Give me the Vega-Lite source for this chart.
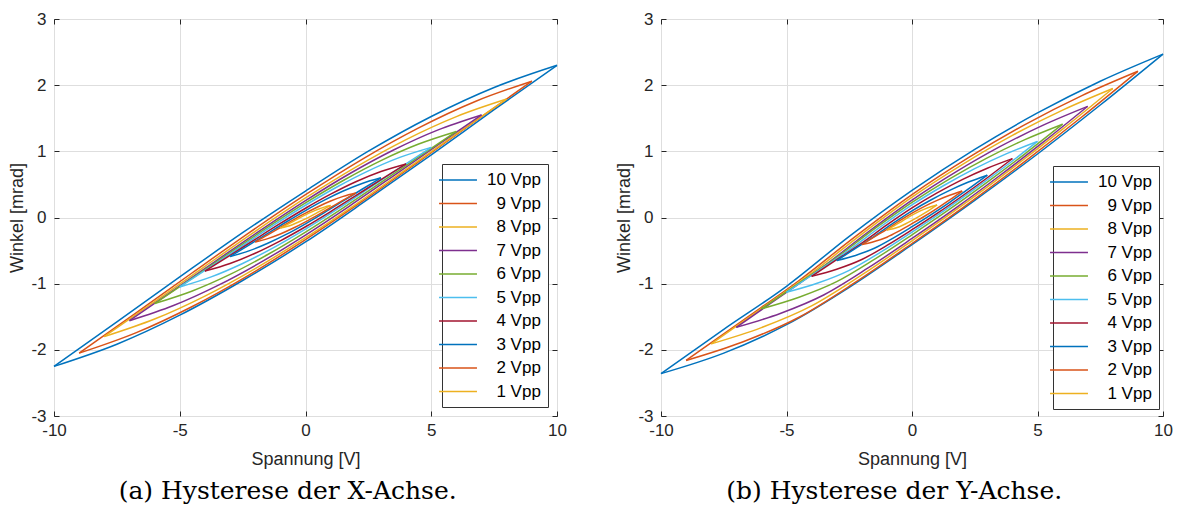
{
"$schema": "https://vega.github.io/schema/vega-lite/v6.json",
"background": "white",
"padding": {"left": 8, "top": 9, "right": 5, "bottom": 5},
"spacing": 48,
"config": {
  "view": {"stroke": "#262626", "strokeWidth": 1},
  "axis": {"labelFont": "Liberation Sans", "titleFont": "Liberation Sans", "labelFontSize": 17, "titleFontSize": 18, "titleFontWeight": "normal", "labelColor": "#262626", "titleColor": "#262626", "gridColor": "#dedede", "gridWidth": 1, "domain": false, "tickColor": "#262626", "tickSize": -5, "tickWidth": 1},
  "legend": {"title": null, "orient": "none", "labelFont": "Liberation Sans", "labelFontSize": 17, "labelColor": "#000000", "fillColor": "white", "strokeColor": "#333333", "padding": 7, "rowPadding": 6.5, "labelLimit": 200},
  "title": {"font": "DejaVu Serif", "fontSize": 25, "fontWeight": "normal", "color": "#000000", "orient": "bottom", "anchor": "middle", "frame": "bounds", "offset": 11}
},
"datasets": {
"dx": [
{"s":"10 Vpp","b":"L","x":-10,"y":-2.25},{"s":"10 Vpp","b":"L","x":-7.5,"y":-1.915},{"s":"10 Vpp","b":"L","x":-5,"y":-1.476},{"s":"10 Vpp","b":"L","x":-2.5,"y":-0.952},{"s":"10 Vpp","b":"L","x":0,"y":-0.37},{"s":"10 Vpp","b":"L","x":2.5,"y":0.28},{"s":"10 Vpp","b":"L","x":5,"y":0.948},{"s":"10 Vpp","b":"L","x":7.5,"y":1.629},{"s":"10 Vpp","b":"L","x":10,"y":2.3},
{"s":"10 Vpp","b":"U","x":-10,"y":-2.25},{"s":"10 Vpp","b":"U","x":-7.5,"y":-1.579},{"s":"10 Vpp","b":"U","x":-5,"y":-0.899},{"s":"10 Vpp","b":"U","x":-2.5,"y":-0.23},{"s":"10 Vpp","b":"U","x":0,"y":0.4},{"s":"10 Vpp","b":"U","x":2.5,"y":1.002},{"s":"10 Vpp","b":"U","x":5,"y":1.527},{"s":"10 Vpp","b":"U","x":7.5,"y":1.965},{"s":"10 Vpp","b":"U","x":10,"y":2.3},
{"s":"9 Vpp","b":"L","x":-9,"y":-2.05},{"s":"9 Vpp","b":"L","x":-6.75,"y":-1.744},{"s":"9 Vpp","b":"L","x":-4.5,"y":-1.345},{"s":"9 Vpp","b":"L","x":-2.25,"y":-0.87},{"s":"9 Vpp","b":"L","x":0,"y":-0.335},{"s":"9 Vpp","b":"L","x":2.25,"y":0.242},{"s":"9 Vpp","b":"L","x":4.5,"y":0.845},{"s":"9 Vpp","b":"L","x":6.75,"y":1.456},{"s":"9 Vpp","b":"L","x":9,"y":2.06},
{"s":"9 Vpp","b":"U","x":-9,"y":-2.05},{"s":"9 Vpp","b":"U","x":-6.75,"y":-1.446},{"s":"9 Vpp","b":"U","x":-4.5,"y":-0.835},{"s":"9 Vpp","b":"U","x":-2.25,"y":-0.232},{"s":"9 Vpp","b":"U","x":0,"y":0.345},{"s":"9 Vpp","b":"U","x":2.25,"y":0.88},{"s":"9 Vpp","b":"U","x":4.5,"y":1.355},{"s":"9 Vpp","b":"U","x":6.75,"y":1.754},{"s":"9 Vpp","b":"U","x":9,"y":2.06},
{"s":"8 Vpp","b":"L","x":-8,"y":-1.8},{"s":"8 Vpp","b":"L","x":-6,"y":-1.535},{"s":"8 Vpp","b":"L","x":-4,"y":-1.188},{"s":"8 Vpp","b":"L","x":-2,"y":-0.772},{"s":"8 Vpp","b":"L","x":0,"y":-0.305},{"s":"8 Vpp","b":"L","x":2,"y":0.2},{"s":"8 Vpp","b":"L","x":4,"y":0.728},{"s":"8 Vpp","b":"L","x":6,"y":1.263},{"s":"8 Vpp","b":"L","x":8,"y":1.79},
{"s":"8 Vpp","b":"U","x":-8,"y":-1.8},{"s":"8 Vpp","b":"U","x":-6,"y":-1.273},{"s":"8 Vpp","b":"U","x":-4,"y":-0.738},{"s":"8 Vpp","b":"U","x":-2,"y":-0.21},{"s":"8 Vpp","b":"U","x":0,"y":0.295},{"s":"8 Vpp","b":"U","x":2,"y":0.762},{"s":"8 Vpp","b":"U","x":4,"y":1.178},{"s":"8 Vpp","b":"U","x":6,"y":1.525},{"s":"8 Vpp","b":"U","x":8,"y":1.79},
{"s":"7 Vpp","b":"L","x":-7,"y":-1.56},{"s":"7 Vpp","b":"L","x":-5.25,"y":-1.331},{"s":"7 Vpp","b":"L","x":-3.5,"y":-1.03},{"s":"7 Vpp","b":"L","x":-1.75,"y":-0.671},{"s":"7 Vpp","b":"L","x":0,"y":-0.265},{"s":"7 Vpp","b":"L","x":1.75,"y":0.173},{"s":"7 Vpp","b":"L","x":3.5,"y":0.63},{"s":"7 Vpp","b":"L","x":5.25,"y":1.093},{"s":"7 Vpp","b":"L","x":7,"y":1.55},
{"s":"7 Vpp","b":"U","x":-7,"y":-1.56},{"s":"7 Vpp","b":"U","x":-5.25,"y":-1.103},{"s":"7 Vpp","b":"U","x":-3.5,"y":-0.64},{"s":"7 Vpp","b":"U","x":-1.75,"y":-0.183},{"s":"7 Vpp","b":"U","x":0,"y":0.255},{"s":"7 Vpp","b":"U","x":1.75,"y":0.661},{"s":"7 Vpp","b":"U","x":3.5,"y":1.02},{"s":"7 Vpp","b":"U","x":5.25,"y":1.321},{"s":"7 Vpp","b":"U","x":7,"y":1.55},
{"s":"6 Vpp","b":"L","x":-6,"y":-1.3},{"s":"6 Vpp","b":"L","x":-4.5,"y":-1.11},{"s":"6 Vpp","b":"L","x":-3,"y":-0.86},{"s":"6 Vpp","b":"L","x":-1.5,"y":-0.559},{"s":"6 Vpp","b":"L","x":0,"y":-0.22},{"s":"6 Vpp","b":"L","x":1.5,"y":0.147},{"s":"6 Vpp","b":"L","x":3,"y":0.53},{"s":"6 Vpp","b":"L","x":4.5,"y":0.918},{"s":"6 Vpp","b":"L","x":6,"y":1.3},
{"s":"6 Vpp","b":"U","x":-6,"y":-1.3},{"s":"6 Vpp","b":"U","x":-4.5,"y":-0.918},{"s":"6 Vpp","b":"U","x":-3,"y":-0.53},{"s":"6 Vpp","b":"U","x":-1.5,"y":-0.147},{"s":"6 Vpp","b":"U","x":0,"y":0.22},{"s":"6 Vpp","b":"U","x":1.5,"y":0.559},{"s":"6 Vpp","b":"U","x":3,"y":0.86},{"s":"6 Vpp","b":"U","x":4.5,"y":1.11},{"s":"6 Vpp","b":"U","x":6,"y":1.3},
{"s":"5 Vpp","b":"L","x":-5,"y":-1.05},{"s":"5 Vpp","b":"L","x":-3.75,"y":-0.898},{"s":"5 Vpp","b":"L","x":-2.5,"y":-0.695},{"s":"5 Vpp","b":"L","x":-1.25,"y":-0.451},{"s":"5 Vpp","b":"L","x":0,"y":-0.175},{"s":"5 Vpp","b":"L","x":1.25,"y":0.123},{"s":"5 Vpp","b":"L","x":2.5,"y":0.435},{"s":"5 Vpp","b":"L","x":3.75,"y":0.75},{"s":"5 Vpp","b":"L","x":5,"y":1.06},
{"s":"5 Vpp","b":"U","x":-5,"y":-1.05},{"s":"5 Vpp","b":"U","x":-3.75,"y":-0.74},{"s":"5 Vpp","b":"U","x":-2.5,"y":-0.425},{"s":"5 Vpp","b":"U","x":-1.25,"y":-0.113},{"s":"5 Vpp","b":"U","x":0,"y":0.185},{"s":"5 Vpp","b":"U","x":1.25,"y":0.461},{"s":"5 Vpp","b":"U","x":2.5,"y":0.705},{"s":"5 Vpp","b":"U","x":3.75,"y":0.908},{"s":"5 Vpp","b":"U","x":5,"y":1.06},
{"s":"4 Vpp","b":"L","x":-4,"y":-0.81},{"s":"4 Vpp","b":"L","x":-3,"y":-0.695},{"s":"4 Vpp","b":"L","x":-2,"y":-0.54},{"s":"4 Vpp","b":"L","x":-1,"y":-0.352},{"s":"4 Vpp","b":"L","x":0,"y":-0.14},{"s":"4 Vpp","b":"L","x":1,"y":0.09},{"s":"4 Vpp","b":"L","x":2,"y":0.33},{"s":"4 Vpp","b":"L","x":3,"y":0.573},{"s":"4 Vpp","b":"L","x":4,"y":0.81},
{"s":"4 Vpp","b":"U","x":-4,"y":-0.81},{"s":"4 Vpp","b":"U","x":-3,"y":-0.573},{"s":"4 Vpp","b":"U","x":-2,"y":-0.33},{"s":"4 Vpp","b":"U","x":-1,"y":-0.09},{"s":"4 Vpp","b":"U","x":0,"y":0.14},{"s":"4 Vpp","b":"U","x":1,"y":0.352},{"s":"4 Vpp","b":"U","x":2,"y":0.54},{"s":"4 Vpp","b":"U","x":3,"y":0.695},{"s":"4 Vpp","b":"U","x":4,"y":0.81},
{"s":"3 Vpp","b":"L","x":-3,"y":-0.59},{"s":"3 Vpp","b":"L","x":-2.25,"y":-0.505},{"s":"3 Vpp","b":"L","x":-1.5,"y":-0.39},{"s":"3 Vpp","b":"L","x":-0.75,"y":-0.252},{"s":"3 Vpp","b":"L","x":0,"y":-0.095},{"s":"3 Vpp","b":"L","x":0.75,"y":0.074},{"s":"3 Vpp","b":"L","x":1.5,"y":0.25},{"s":"3 Vpp","b":"L","x":2.25,"y":0.427},{"s":"3 Vpp","b":"L","x":3,"y":0.6},
{"s":"3 Vpp","b":"U","x":-3,"y":-0.59},{"s":"3 Vpp","b":"U","x":-2.25,"y":-0.417},{"s":"3 Vpp","b":"U","x":-1.5,"y":-0.24},{"s":"3 Vpp","b":"U","x":-0.75,"y":-0.064},{"s":"3 Vpp","b":"U","x":0,"y":0.105},{"s":"3 Vpp","b":"U","x":0.75,"y":0.262},{"s":"3 Vpp","b":"U","x":1.5,"y":0.4},{"s":"3 Vpp","b":"U","x":2.25,"y":0.515},{"s":"3 Vpp","b":"U","x":3,"y":0.6},
{"s":"2 Vpp","b":"L","x":-2,"y":-0.37},{"s":"2 Vpp","b":"L","x":-1.5,"y":-0.319},{"s":"2 Vpp","b":"L","x":-1,"y":-0.249},{"s":"2 Vpp","b":"L","x":-0.5,"y":-0.163},{"s":"2 Vpp","b":"L","x":0,"y":-0.065},{"s":"2 Vpp","b":"L","x":0.5,"y":0.041},{"s":"2 Vpp","b":"L","x":1,"y":0.151},{"s":"2 Vpp","b":"L","x":1.5,"y":0.263},{"s":"2 Vpp","b":"L","x":2,"y":0.37},
{"s":"2 Vpp","b":"U","x":-2,"y":-0.37},{"s":"2 Vpp","b":"U","x":-1.5,"y":-0.263},{"s":"2 Vpp","b":"U","x":-1,"y":-0.151},{"s":"2 Vpp","b":"U","x":-0.5,"y":-0.041},{"s":"2 Vpp","b":"U","x":0,"y":0.065},{"s":"2 Vpp","b":"U","x":0.5,"y":0.163},{"s":"2 Vpp","b":"U","x":1,"y":0.249},{"s":"2 Vpp","b":"U","x":1.5,"y":0.319},{"s":"2 Vpp","b":"U","x":2,"y":0.37},
{"s":"1 Vpp","b":"L","x":-1,"y":-0.16},{"s":"1 Vpp","b":"L","x":-0.75,"y":-0.137},{"s":"1 Vpp","b":"L","x":-0.5,"y":-0.105},{"s":"1 Vpp","b":"L","x":-0.25,"y":-0.065},{"s":"1 Vpp","b":"L","x":0,"y":-0.02},{"s":"1 Vpp","b":"L","x":0.25,"y":0.029},{"s":"1 Vpp","b":"L","x":0.5,"y":0.08},{"s":"1 Vpp","b":"L","x":0.75,"y":0.131},{"s":"1 Vpp","b":"L","x":1,"y":0.18},
{"s":"1 Vpp","b":"U","x":-1,"y":-0.16},{"s":"1 Vpp","b":"U","x":-0.75,"y":-0.111},{"s":"1 Vpp","b":"U","x":-0.5,"y":-0.06},{"s":"1 Vpp","b":"U","x":-0.25,"y":-0.009},{"s":"1 Vpp","b":"U","x":0,"y":0.04},{"s":"1 Vpp","b":"U","x":0.25,"y":0.085},{"s":"1 Vpp","b":"U","x":0.5,"y":0.125},{"s":"1 Vpp","b":"U","x":0.75,"y":0.157},{"s":"1 Vpp","b":"U","x":1,"y":0.18}
],
"dy": [
{"s":"10 Vpp","b":"L","x":-10,"y":-2.36},{"s":"10 Vpp","b":"L","x":-7.5,"y":-2.05},{"s":"10 Vpp","b":"L","x":-5,"y":-1.62},{"s":"10 Vpp","b":"L","x":-2.5,"y":-1.055},{"s":"10 Vpp","b":"L","x":0,"y":-0.41},{"s":"10 Vpp","b":"L","x":2.5,"y":0.26},{"s":"10 Vpp","b":"L","x":5,"y":0.96},{"s":"10 Vpp","b":"L","x":7.5,"y":1.7},{"s":"10 Vpp","b":"L","x":10,"y":2.47},
{"s":"10 Vpp","b":"U","x":-10,"y":-2.36},{"s":"10 Vpp","b":"U","x":-7.5,"y":-1.69},{"s":"10 Vpp","b":"U","x":-5,"y":-1.04},{"s":"10 Vpp","b":"U","x":-2.5,"y":-0.285},{"s":"10 Vpp","b":"U","x":0,"y":0.41},{"s":"10 Vpp","b":"U","x":2.5,"y":1.03},{"s":"10 Vpp","b":"U","x":5,"y":1.58},{"s":"10 Vpp","b":"U","x":7.5,"y":2.06},{"s":"10 Vpp","b":"U","x":10,"y":2.47},
{"s":"9 Vpp","b":"L","x":-9,"y":-2.16},{"s":"9 Vpp","b":"L","x":-6.75,"y":-1.881},{"s":"9 Vpp","b":"L","x":-4.5,"y":-1.507},{"s":"9 Vpp","b":"L","x":-2.25,"y":-0.978},{"s":"9 Vpp","b":"L","x":0,"y":-0.393},{"s":"9 Vpp","b":"L","x":2.25,"y":0.211},{"s":"9 Vpp","b":"L","x":4.5,"y":0.849},{"s":"9 Vpp","b":"L","x":6.75,"y":1.515},{"s":"9 Vpp","b":"L","x":9,"y":2.21},
{"s":"9 Vpp","b":"U","x":-9,"y":-2.16},{"s":"9 Vpp","b":"U","x":-6.75,"y":-1.557},{"s":"9 Vpp","b":"U","x":-4.5,"y":-0.952},{"s":"9 Vpp","b":"U","x":-2.25,"y":-0.284},{"s":"9 Vpp","b":"U","x":0,"y":0.347},{"s":"9 Vpp","b":"U","x":2.25,"y":0.905},{"s":"9 Vpp","b":"U","x":4.5,"y":1.404},{"s":"9 Vpp","b":"U","x":6.75,"y":1.839},{"s":"9 Vpp","b":"U","x":9,"y":2.21},
{"s":"8 Vpp","b":"L","x":-8,"y":-1.91},{"s":"8 Vpp","b":"L","x":-6,"y":-1.664},{"s":"8 Vpp","b":"L","x":-4,"y":-1.336},{"s":"8 Vpp","b":"L","x":-2,"y":-0.868},{"s":"8 Vpp","b":"L","x":0,"y":-0.352},{"s":"8 Vpp","b":"L","x":2,"y":0.182},{"s":"8 Vpp","b":"L","x":4,"y":0.746},{"s":"8 Vpp","b":"L","x":6,"y":1.335},{"s":"8 Vpp","b":"L","x":8,"y":1.95},
{"s":"8 Vpp","b":"U","x":-8,"y":-1.91},{"s":"8 Vpp","b":"U","x":-6,"y":-1.376},{"s":"8 Vpp","b":"U","x":-4,"y":-0.84},{"s":"8 Vpp","b":"U","x":-2,"y":-0.25},{"s":"8 Vpp","b":"U","x":0,"y":0.308},{"s":"8 Vpp","b":"U","x":2,"y":0.8},{"s":"8 Vpp","b":"U","x":4,"y":1.241},{"s":"8 Vpp","b":"U","x":6,"y":1.623},{"s":"8 Vpp","b":"U","x":8,"y":1.95},
{"s":"7 Vpp","b":"L","x":-7,"y":-1.66},{"s":"7 Vpp","b":"L","x":-5.25,"y":-1.45},{"s":"7 Vpp","b":"L","x":-3.5,"y":-1.167},{"s":"7 Vpp","b":"L","x":-1.75,"y":-0.763},{"s":"7 Vpp","b":"L","x":0,"y":-0.317},{"s":"7 Vpp","b":"L","x":1.75,"y":0.145},{"s":"7 Vpp","b":"L","x":3.5,"y":0.635},{"s":"7 Vpp","b":"L","x":5.25,"y":1.146},{"s":"7 Vpp","b":"L","x":7,"y":1.68},
{"s":"7 Vpp","b":"U","x":-7,"y":-1.66},{"s":"7 Vpp","b":"U","x":-5.25,"y":-1.196},{"s":"7 Vpp","b":"U","x":-3.5,"y":-0.732},{"s":"7 Vpp","b":"U","x":-1.75,"y":-0.219},{"s":"7 Vpp","b":"U","x":0,"y":0.263},{"s":"7 Vpp","b":"U","x":1.75,"y":0.689},{"s":"7 Vpp","b":"U","x":3.5,"y":1.07},{"s":"7 Vpp","b":"U","x":5.25,"y":1.4},{"s":"7 Vpp","b":"U","x":7,"y":1.68},
{"s":"6 Vpp","b":"L","x":-6,"y":-1.38},{"s":"6 Vpp","b":"L","x":-4.5,"y":-1.205},{"s":"6 Vpp","b":"L","x":-3,"y":-0.97},{"s":"6 Vpp","b":"L","x":-1.5,"y":-0.633},{"s":"6 Vpp","b":"L","x":0,"y":-0.261},{"s":"6 Vpp","b":"L","x":1.5,"y":0.125},{"s":"6 Vpp","b":"L","x":3,"y":0.534},{"s":"6 Vpp","b":"L","x":4.5,"y":0.963},{"s":"6 Vpp","b":"L","x":6,"y":1.41},
{"s":"6 Vpp","b":"U","x":-6,"y":-1.38},{"s":"6 Vpp","b":"U","x":-4.5,"y":-0.991},{"s":"6 Vpp","b":"U","x":-3,"y":-0.602},{"s":"6 Vpp","b":"U","x":-1.5,"y":-0.173},{"s":"6 Vpp","b":"U","x":0,"y":0.229},{"s":"6 Vpp","b":"U","x":1.5,"y":0.585},{"s":"6 Vpp","b":"U","x":3,"y":0.902},{"s":"6 Vpp","b":"U","x":4.5,"y":1.177},{"s":"6 Vpp","b":"U","x":6,"y":1.41},
{"s":"5 Vpp","b":"L","x":-5,"y":-1.13},{"s":"5 Vpp","b":"L","x":-3.75,"y":-0.99},{"s":"5 Vpp","b":"L","x":-2.5,"y":-0.798},{"s":"5 Vpp","b":"L","x":-1.25,"y":-0.524},{"s":"5 Vpp","b":"L","x":0,"y":-0.22},{"s":"5 Vpp","b":"L","x":1.25,"y":0.096},{"s":"5 Vpp","b":"L","x":2.5,"y":0.431},{"s":"5 Vpp","b":"L","x":3.75,"y":0.782},{"s":"5 Vpp","b":"L","x":5,"y":1.15},
{"s":"5 Vpp","b":"U","x":-5,"y":-1.13},{"s":"5 Vpp","b":"U","x":-3.75,"y":-0.81},{"s":"5 Vpp","b":"U","x":-2.5,"y":-0.49},{"s":"5 Vpp","b":"U","x":-1.25,"y":-0.14},{"s":"5 Vpp","b":"U","x":0,"y":0.19},{"s":"5 Vpp","b":"U","x":1.25,"y":0.48},{"s":"5 Vpp","b":"U","x":2.5,"y":0.739},{"s":"5 Vpp","b":"U","x":3.75,"y":0.962},{"s":"5 Vpp","b":"U","x":5,"y":1.15},
{"s":"4 Vpp","b":"L","x":-4,"y":-0.89},{"s":"4 Vpp","b":"L","x":-3,"y":-0.782},{"s":"4 Vpp","b":"L","x":-2,"y":-0.635},{"s":"4 Vpp","b":"L","x":-1,"y":-0.422},{"s":"4 Vpp","b":"L","x":0,"y":-0.185},{"s":"4 Vpp","b":"L","x":1,"y":0.062},{"s":"4 Vpp","b":"L","x":2,"y":0.325},{"s":"4 Vpp","b":"L","x":3,"y":0.601},{"s":"4 Vpp","b":"L","x":4,"y":0.89},
{"s":"4 Vpp","b":"U","x":-4,"y":-0.89},{"s":"4 Vpp","b":"U","x":-3,"y":-0.638},{"s":"4 Vpp","b":"U","x":-2,"y":-0.387},{"s":"4 Vpp","b":"U","x":-1,"y":-0.112},{"s":"4 Vpp","b":"U","x":0,"y":0.145},{"s":"4 Vpp","b":"U","x":1,"y":0.372},{"s":"4 Vpp","b":"U","x":2,"y":0.573},{"s":"4 Vpp","b":"U","x":3,"y":0.745},{"s":"4 Vpp","b":"U","x":4,"y":0.89},
{"s":"3 Vpp","b":"L","x":-3,"y":-0.65},{"s":"3 Vpp","b":"L","x":-2.25,"y":-0.573},{"s":"3 Vpp","b":"L","x":-1.5,"y":-0.465},{"s":"3 Vpp","b":"L","x":-0.75,"y":-0.311},{"s":"3 Vpp","b":"L","x":0,"y":-0.139},{"s":"3 Vpp","b":"L","x":0.75,"y":0.04},{"s":"3 Vpp","b":"L","x":1.5,"y":0.23},{"s":"3 Vpp","b":"L","x":2.25,"y":0.431},{"s":"3 Vpp","b":"L","x":3,"y":0.64},
{"s":"3 Vpp","b":"U","x":-3,"y":-0.65},{"s":"3 Vpp","b":"U","x":-2.25,"y":-0.468},{"s":"3 Vpp","b":"U","x":-1.5,"y":-0.285},{"s":"3 Vpp","b":"U","x":-0.75,"y":-0.086},{"s":"3 Vpp","b":"U","x":0,"y":0.101},{"s":"3 Vpp","b":"U","x":0.75,"y":0.265},{"s":"3 Vpp","b":"U","x":1.5,"y":0.41},{"s":"3 Vpp","b":"U","x":2.25,"y":0.536},{"s":"3 Vpp","b":"U","x":3,"y":0.64},
{"s":"2 Vpp","b":"L","x":-2,"y":-0.41},{"s":"2 Vpp","b":"L","x":-1.5,"y":-0.363},{"s":"2 Vpp","b":"L","x":-1,"y":-0.298},{"s":"2 Vpp","b":"L","x":-0.5,"y":-0.202},{"s":"2 Vpp","b":"L","x":0,"y":-0.094},{"s":"2 Vpp","b":"L","x":0.5,"y":0.019},{"s":"2 Vpp","b":"L","x":1,"y":0.139},{"s":"2 Vpp","b":"L","x":1.5,"y":0.266},{"s":"2 Vpp","b":"L","x":2,"y":0.4},
{"s":"2 Vpp","b":"U","x":-2,"y":-0.41},{"s":"2 Vpp","b":"U","x":-1.5,"y":-0.293},{"s":"2 Vpp","b":"U","x":-1,"y":-0.178},{"s":"2 Vpp","b":"U","x":-0.5,"y":-0.052},{"s":"2 Vpp","b":"U","x":0,"y":0.066},{"s":"2 Vpp","b":"U","x":0.5,"y":0.169},{"s":"2 Vpp","b":"U","x":1,"y":0.259},{"s":"2 Vpp","b":"U","x":1.5,"y":0.336},{"s":"2 Vpp","b":"U","x":2,"y":0.4},
{"s":"1 Vpp","b":"L","x":-1,"y":-0.19},{"s":"1 Vpp","b":"L","x":-0.75,"y":-0.17},{"s":"1 Vpp","b":"L","x":-0.5,"y":-0.139},{"s":"1 Vpp","b":"L","x":-0.25,"y":-0.095},{"s":"1 Vpp","b":"L","x":0,"y":-0.044},{"s":"1 Vpp","b":"L","x":0.25,"y":0.009},{"s":"1 Vpp","b":"L","x":0.5,"y":0.066},{"s":"1 Vpp","b":"L","x":0.75,"y":0.126},{"s":"1 Vpp","b":"L","x":1,"y":0.19},
{"s":"1 Vpp","b":"U","x":-1,"y":-0.19},{"s":"1 Vpp","b":"U","x":-0.75,"y":-0.135},{"s":"1 Vpp","b":"U","x":-0.5,"y":-0.079},{"s":"1 Vpp","b":"U","x":-0.25,"y":-0.02},{"s":"1 Vpp","b":"U","x":0,"y":0.036},{"s":"1 Vpp","b":"U","x":0.25,"y":0.084},{"s":"1 Vpp","b":"U","x":0.5,"y":0.126},{"s":"1 Vpp","b":"U","x":0.75,"y":0.162},{"s":"1 Vpp","b":"U","x":1,"y":0.19}
]
},
"resolve": {"scale": {"color": "independent"}, "legend": {"color": "independent"}},
"hconcat": [
{
  "width": 503, "height": 397,
  "title": {"text": "(a) Hysterese der X-Achse."},
  "data": {"name": "dx"},
  "resolve": {"axis": {"x": "independent", "y": "independent"}},
  "layer": [
    {
      "mark": {"type": "line", "strokeWidth": 1.5, "interpolate": "monotone"},
      "encoding": {
        "x": {"field": "x", "type": "quantitative", "scale": {"domain": [-10, 10], "nice": false, "zero": false}, "axis": {"orient": "bottom", "values": [-10, -5, 0, 5, 10], "title": "Spannung [V]", "grid": true, "labelExpr": "'' + datum.value", "labelPadding": 11, "titlePadding": 12, "labelFlush": false}},
        "y": {"field": "y", "type": "quantitative", "scale": {"domain": [-3, 3], "nice": false, "zero": false}, "axis": {"orient": "left", "values": [-3, -2, -1, 0, 1, 2, 3], "title": "Winkel [mrad]", "grid": true, "labelExpr": "'' + datum.value", "labelPadding": 13, "titlePadding": 4, "labelFlush": false}},
        "color": {"field": "s", "type": "nominal",
          "scale": {"domain": ["10 Vpp", "9 Vpp", "8 Vpp", "7 Vpp", "6 Vpp", "5 Vpp", "4 Vpp", "3 Vpp", "2 Vpp", "1 Vpp"],
                    "range": ["#0072BD", "#D95319", "#EDB120", "#7E2F8E", "#77AC30", "#4DBEEE", "#A2142F", "#0072BD", "#D95319", "#EDB120"]},
          "legend": {"legendX": 388, "legendY": 145, "symbolType": "M-2.3,0H2.3", "symbolSize": 272, "symbolStrokeWidth": 1.5, "labelOffset": 20, "labelExpr": "length(datum.label) < 6 ? '\u200b\u00a0\u00a0' + datum.label : datum.label"}},
        "detail": {"field": "b", "type": "nominal"},
        "order": {"field": "x", "type": "quantitative"}
      }
    },
    {
      "mark": {"type": "line", "strokeOpacity": 0},
      "encoding": {
        "x": {"field": "x", "type": "quantitative", "axis": {"orient": "top", "values": [-10, -5, 0, 5, 10], "labels": false, "title": null, "grid": false}},
        "y": {"field": "y", "type": "quantitative", "axis": {"orient": "right", "values": [-3, -2, -1, 0, 1, 2, 3], "labels": false, "title": null, "grid": false}},
        "detail": [{"field": "s", "type": "nominal"}, {"field": "b", "type": "nominal"}],
        "order": {"field": "x", "type": "quantitative"}
      }
    }
  ]
},
{
  "width": 502, "height": 397,
  "title": {"text": "(b) Hysterese der Y-Achse."},
  "data": {"name": "dy"},
  "resolve": {"axis": {"x": "independent", "y": "independent"}},
  "layer": [
    {
      "mark": {"type": "line", "strokeWidth": 1.5, "interpolate": "monotone"},
      "encoding": {
        "x": {"field": "x", "type": "quantitative", "scale": {"domain": [-10, 10], "nice": false, "zero": false}, "axis": {"orient": "bottom", "values": [-10, -5, 0, 5, 10], "title": "Spannung [V]", "grid": true, "labelExpr": "'' + datum.value", "labelPadding": 11, "titlePadding": 12, "labelFlush": false}},
        "y": {"field": "y", "type": "quantitative", "scale": {"domain": [-3, 3], "nice": false, "zero": false}, "axis": {"orient": "left", "values": [-3, -2, -1, 0, 1, 2, 3], "title": "Winkel [mrad]", "grid": true, "labelExpr": "'' + datum.value", "labelPadding": 13, "titlePadding": 4, "labelFlush": false}},
        "color": {"field": "s", "type": "nominal",
          "scale": {"domain": ["10 Vpp", "9 Vpp", "8 Vpp", "7 Vpp", "6 Vpp", "5 Vpp", "4 Vpp", "3 Vpp", "2 Vpp", "1 Vpp"],
                    "range": ["#0072BD", "#D95319", "#EDB120", "#7E2F8E", "#77AC30", "#4DBEEE", "#A2142F", "#0072BD", "#D95319", "#EDB120"]},
          "legend": {"legendX": 392, "legendY": 147, "symbolType": "M-2.3,0H2.3", "symbolSize": 272, "symbolStrokeWidth": 1.5, "labelOffset": 20, "labelExpr": "length(datum.label) < 6 ? '\u200b\u00a0\u00a0' + datum.label : datum.label"}},
        "detail": {"field": "b", "type": "nominal"},
        "order": {"field": "x", "type": "quantitative"}
      }
    },
    {
      "mark": {"type": "line", "strokeOpacity": 0},
      "encoding": {
        "x": {"field": "x", "type": "quantitative", "axis": {"orient": "top", "values": [-10, -5, 0, 5, 10], "labels": false, "title": null, "grid": false}},
        "y": {"field": "y", "type": "quantitative", "axis": {"orient": "right", "values": [-3, -2, -1, 0, 1, 2, 3], "labels": false, "title": null, "grid": false}},
        "detail": [{"field": "s", "type": "nominal"}, {"field": "b", "type": "nominal"}],
        "order": {"field": "x", "type": "quantitative"}
      }
    }
  ]
}
]
}
